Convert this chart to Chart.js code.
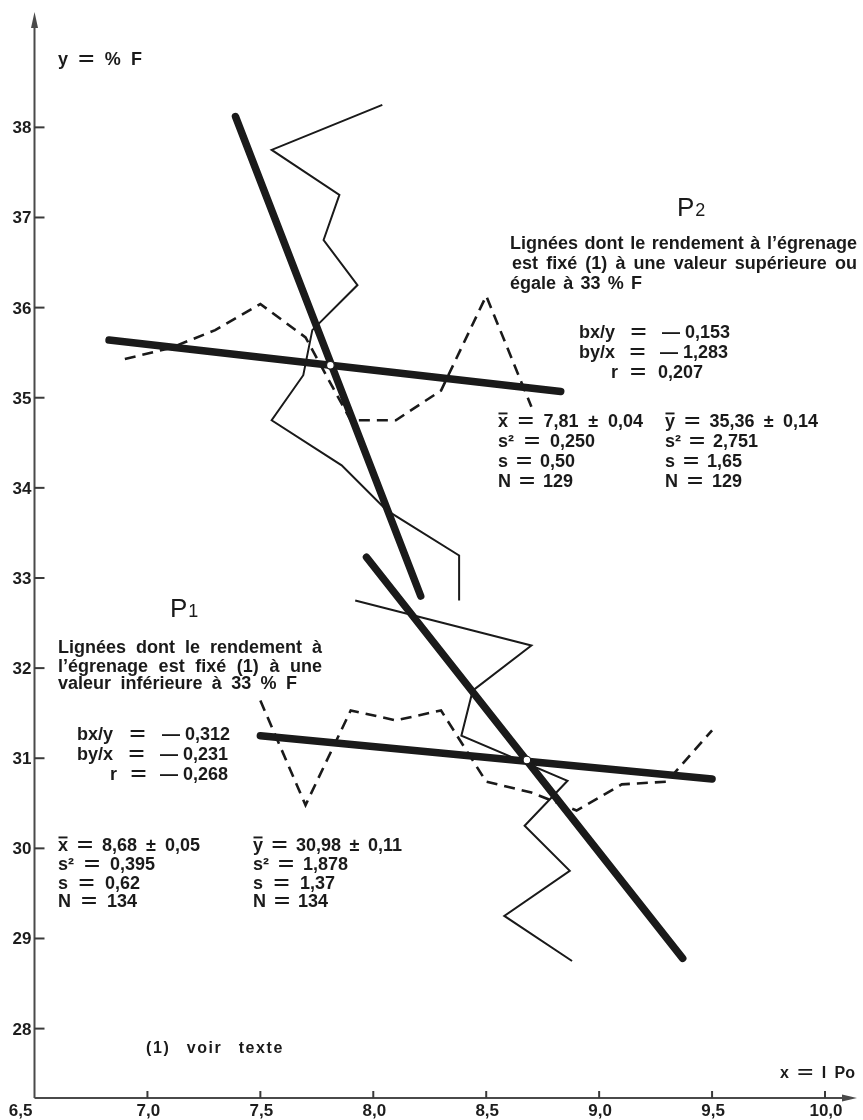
<!DOCTYPE html>
<html lang="fr">
<head>
<meta charset="utf-8">
<title>Rendement à l'égrenage (% F) et IPo</title>
<script src="https://cdn.jsdelivr.net/npm/chart.js@4.4.1/dist/chart.umd.min.js"></script>
<style>
  html, body { margin: 0; padding: 0; background: #ffffff; }
  canvas { display: block; }
</style>
</head>
<body>
<canvas id="chart" width="863" height="1120"></canvas>
<script>
// Axis ticks and their printed labels
const xTicks = [6.5, 7.0, 7.5, 8.0, 8.5, 9.0, 9.5, 10.0];
const xTickLabels = ['6,5', '7,0', '7,5', '8,0', '8,5', '9,0', '9,5', '10,0'];
const yTicks = [28, 29, 30, 31, 32, 33, 34, 35, 36, 37, 38];
const yTickLabels = ['28', '29', '30', '31', '32', '33', '34', '35', '36', '37', '38'];

// P2 (>= 33 % F): mean IPo per % F class (solid) and mean % F per IPo class (dashed)
const p2ClassX = [8.04, 7.55, 7.85, 7.78, 7.93, 7.73, 7.69, 7.55, 7.86, 8.06, 8.38, 8.38];
const p2ClassY = [38.25, 37.75, 37.25, 36.75, 36.25, 35.75, 35.25, 34.75, 34.25, 33.75, 33.25, 32.75];
const p2DashX = [6.9, 7.1, 7.3, 7.5, 7.7, 7.9, 8.1, 8.3, 8.5, 8.7];
const p2DashY = [35.43, 35.55, 35.75, 36.04, 35.67, 34.75, 34.75, 35.08, 36.13, 34.90];

// P1 (< 33 % F)
const p1ClassX = [7.92, 8.70, 8.44, 8.39, 8.86, 8.67, 8.87, 8.58, 8.88];
const p1ClassY = [32.75, 32.25, 31.75, 31.25, 30.75, 30.25, 29.75, 29.25, 28.75];
const p1DashX = [7.5, 7.7, 7.9, 8.1, 8.3, 8.5, 8.7, 8.9, 9.1, 9.3, 9.5];
const p1DashY = [31.64, 30.48, 31.53, 31.42, 31.53, 30.74, 30.62, 30.42, 30.71, 30.74, 31.31];

// Regression lines (end points) and means
const p2SteepX = [7.39, 8.21];
const p2SteepY = [38.12, 32.80];
const p2FlatX = [6.83, 8.83];
const p2FlatY = [35.64, 35.07];
const p1SteepX = [7.97, 9.37];
const p1SteepY = [33.23, 28.78];
const p1FlatX = [7.50, 9.50];
const p1FlatY = [31.25, 30.77];
const meansX = [7.81, 8.68];
const meansY = [35.36, 30.98];

const INK = '#1a1a1a';
const pts = (xs, ys) => xs.map((v, i) => ({ x: v, y: ys[i] }));

function thick(xs, ys) {
  return { data: pts(xs, ys), showLine: true, borderColor: INK, borderWidth: 7.5,
    borderCapStyle: 'round', pointRadius: 0, order: 1 };
}
function thin(xs, ys) {
  return { data: pts(xs, ys), showLine: true, borderColor: INK, borderWidth: 2,
    borderJoinStyle: 'miter', pointRadius: 0, order: 1 };
}
function dashed(xs, ys) {
  return { data: pts(xs, ys), showLine: true, borderColor: INK, borderWidth: 2.6,
    borderDash: [11, 7], borderJoinStyle: 'miter', pointRadius: 0, order: 1 };
}

// Text set beside the curves: [text, left, baseline, measure, font, letter spacing]
const BOLD = 'bold 18px "Liberation Sans", Arial, sans-serif';
const BOLD16 = 'bold 16px "Liberation Sans", Arial, sans-serif';
const NB = '\u00a0';
const textRows = [
  ['Lignées dont le rendement à l’égrenage', 510, 248.5, 347, BOLD, 0],
  ['est fixé (1) à une valeur supérieure ou', 512, 268.5, 345, BOLD, 0],
  ['égale à 33 % F', 510, 288.5, 132, BOLD, 0],
  ['bx/y = —' + NB + '0,153', 579, 338, 151, BOLD, 0],
  ['by/x = —' + NB + '1,283', 579, 357.5, 149, BOLD, 0],
  ['r = 0,207', 611, 378, 92, BOLD, 0],
  ['x\u0304 = 7,81 ± 0,04', 498, 426.5, 145, BOLD, 0],
  ['s² = 0,250', 498, 446.5, 97, BOLD, 0],
  ['s = 0,50', 498, 466.5, 77, BOLD, 0],
  ['N = 129', 498, 486.5, 75, BOLD, 0],
  ['y\u0304 = 35,36 ± 0,14', 665, 426.5, 153, BOLD, 0],
  ['s² = 2,751', 665, 446.5, 93, BOLD, 0],
  ['s = 1,65', 665, 466.5, 77, BOLD, 0],
  ['N = 129', 665, 486.5, 77, BOLD, 0],
  ['Lignées dont le rendement à', 58, 652.5, 264, BOLD, 0],
  ['l’égrenage est fixé (1) à une', 58, 671.5, 264, BOLD, 0],
  ['valeur inférieure à 33 % F', 58, 689, 239, BOLD, 0],
  ['bx/y = —' + NB + '0,312', 77, 740, 153, BOLD, 0],
  ['by/x = —' + NB + '0,231', 77, 760, 151, BOLD, 0],
  ['r = —' + NB + '0,268', 110, 780, 118, BOLD, 0],
  ['x\u0304 = 8,68 ± 0,05', 58, 850.5, 142, BOLD, 0],
  ['s² = 0,395', 58, 870, 97, BOLD, 0],
  ['s = 0,62', 58, 888.5, 82, BOLD, 0],
  ['N = 134', 58, 907, 79, BOLD, 0],
  ['y\u0304 = 30,98 ± 0,11', 253, 850.5, 149, BOLD, 0],
  ['s² = 1,878', 253, 870, 95, BOLD, 0],
  ['s = 1,37', 253, 888.5, 82, BOLD, 0],
  ['N = 134', 253, 907, 75, BOLD, 0],
  ['y = % F', 58, 65, 84, BOLD, 0],
  ['x = I Po', 780, 1078, 75, BOLD16, 0],
  ['(1) voir texte', 146, 1053, 138, BOLD16, 1.6]
];
const groupLabels = [['P', '2', 677, 216], ['P', '1', 170, 617]];

const EQ_W = 16;
function tokWidth(ctx, t) {
  if (t === '=') return EQ_W;
  return ctx.measureText(t.replace('\u0304', '')).width;
}
function drawTok(ctx, t, x, base, w) {
  if (t === '=') {
    const nat = ctx.measureText('=').width;
    ctx.save();
    ctx.translate(x, base);
    ctx.scale(w / nat, 1);
    ctx.fillText('=', 0, 0);
    ctx.restore();
    return;
  }
  if (t.includes('\u0304')) {
    const b = t.replace('\u0304', '');
    ctx.fillText(b, x, base);
    ctx.fillRect(x + 0.5, base - 14, w - 1, 1.9);
    return;
  }
  ctx.fillText(t, x, base);
}
// Words spread so the line fills its measure
function drawRow(ctx, text, x0, base, width, font, ls) {
  ctx.font = font;
  const spaced = ls && 'letterSpacing' in ctx;
  if (spaced) ctx.letterSpacing = ls + 'px';
  const toks = text.split(' ');
  const ws = toks.map(t => tokWidth(ctx, t));
  const total = ws.reduce((s, w) => s + w, 0);
  const gap = toks.length > 1 ? Math.max(3, (width - total) / (toks.length - 1)) : 0;
  let cx = x0;
  toks.forEach((t, i) => { drawTok(ctx, t, cx, base, ws[i]); cx += ws[i] + gap; });
  if (spaced) ctx.letterSpacing = '0px';
}

const frame = {
  id: 'frame',
  afterDraw(chart) {
    const { ctx, chartArea: a, scales } = chart;
    const sx = scales.x, sy = scales.y;
    const ax = sx.getPixelForValue(6.5);
    const ay = a.bottom;
    ctx.save();
    ctx.strokeStyle = '#4a4a4a';
    ctx.fillStyle = '#4a4a4a';
    ctx.lineWidth = 2;
    // axes with arrow heads
    ctx.beginPath();
    ctx.moveTo(ax, ay); ctx.lineTo(ax, a.top + 10);
    ctx.moveTo(ax, ay); ctx.lineTo(a.right + 22, ay);
    ctx.stroke();
    ctx.beginPath();
    ctx.moveTo(ax, a.top); ctx.lineTo(ax - 3.5, a.top + 16); ctx.lineTo(ax + 3.5, a.top + 16); ctx.closePath();
    ctx.fill();
    ctx.beginPath();
    ctx.moveTo(a.right + 32, ay); ctx.lineTo(a.right + 17, ay - 3.5); ctx.lineTo(a.right + 17, ay + 3.5); ctx.closePath();
    ctx.fill();

    // ticks and labels
    ctx.fillStyle = '#1d1d1d';
    ctx.strokeStyle = '#3a3a3a';
    ctx.font = 'bold 17px "Liberation Sans", Arial, sans-serif';
    xTicks.forEach((v, i) => {
      const px = sx.getPixelForValue(v);
      if (i > 0) {
        ctx.beginPath(); ctx.moveTo(px, ay); ctx.lineTo(px, ay - 7); ctx.stroke();
        ctx.textAlign = 'center';
        ctx.fillText(xTickLabels[i], px + 1, ay + 18);
      } else {
        ctx.textAlign = 'right';
        ctx.fillText(xTickLabels[i], px - 2, ay + 18);
      }
    });
    yTicks.forEach((v, i) => {
      const py = sy.getPixelForValue(v);
      ctx.beginPath(); ctx.moveTo(ax, py); ctx.lineTo(ax + 10, py); ctx.stroke();
      ctx.textAlign = 'right';
      ctx.fillText(yTickLabels[i], ax - 3, py + 6);
    });

    // annotations
    ctx.textAlign = 'left';
    ctx.fillStyle = '#1a1a1a';
    textRows.forEach(r => drawRow(ctx, r[0], r[1], r[2], r[3], r[4], r[5]));
    groupLabels.forEach(([p, n, x, base]) => {
      ctx.font = '26px "Liberation Sans", Arial, sans-serif';
      ctx.fillText(p, x, base);
      const w = ctx.measureText(p).width;
      ctx.font = '18px "Liberation Sans", Arial, sans-serif';
      ctx.fillText(n, x + w + 1, base);
    });
    ctx.restore();
  }
};

new Chart(document.getElementById('chart'), {
  type: 'scatter',
  data: {
    datasets: [
      { data: pts(meansX, meansY), pointRadius: 3.8, pointBackgroundColor: '#ffffff',
        pointBorderColor: INK, pointBorderWidth: 1.2, showLine: false, order: 0 },
      thick(p2SteepX, p2SteepY),
      thick(p2FlatX, p2FlatY),
      thick(p1SteepX, p1SteepY),
      thick(p1FlatX, p1FlatY),
      thin(p2ClassX, p2ClassY),
      thin(p1ClassX, p1ClassY),
      dashed(p2DashX, p2DashY),
      dashed(p1DashX, p1DashY)
    ]
  },
  options: {
    responsive: false,
    animation: false,
    events: [],
    devicePixelRatio: 1,
    layout: { padding: { left: 34.5, right: 38, top: 12, bottom: 22 } },
    scales: {
      x: { type: 'linear', min: 6.5, max: 10.0, display: false },
      y: { type: 'linear', min: 27.23, max: 39.28, display: false }
    },
    plugins: { legend: { display: false }, tooltip: { enabled: false } }
  },
  plugins: [frame]
});
</script>
</body>
</html>
